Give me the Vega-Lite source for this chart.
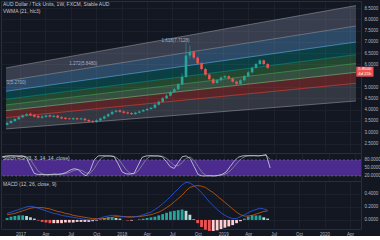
{
  "$schema": "https://vega.github.io/schema/vega-lite/v6.json",
  "background": "#131722",
  "padding": 0,
  "spacing": 0,
  "bounds": "flush",
  "config": {
    "view": {"stroke": "#2a2e39"},
    "font": "Liberation Sans",
    "axis": {"labelFont": "Liberation Sans", "labelFontSize": 4.5, "labelColor": "#b2b5be", "domain": false, "ticks": false, "gridColor": "#232734", "gridWidth": 0.6, "title": null, "labelOverlap": false, "labelSeparation": 0},
    "title": {"font": "Liberation Sans", "subtitleFont": "Liberation Sans", "fontSize": 5, "subtitleFontSize": 5, "fontWeight": "normal", "color": "#c3c6ce", "subtitleColor": "#c3c6ce", "anchor": "start", "frame": "group", "dx": 2, "subtitlePadding": 2}
  },
  "datasets": {
    "bars": [
      {"d":"2016-11-14","o":3.33,"h":3.46,"l":3.29,"c":3.41,"k":92,"dk":90,"m":0.10,"s":0.08,"hs":0.03},
      {"d":"2016-11-28","o":3.41,"h":3.55,"l":3.37,"c":3.50,"k":95,"dk":92,"m":0.12,"s":0.09,"hs":0.05},
      {"d":"2016-12-12","o":3.50,"h":3.63,"l":3.46,"c":3.58,"k":96,"dk":94,"m":0.14,"s":0.10,"hs":0.06},
      {"d":"2016-12-26","o":3.58,"h":3.71,"l":3.54,"c":3.66,"k":95,"dk":95,"m":0.16,"s":0.12,"hs":0.07},
      {"d":"2017-01-09","o":3.66,"h":3.80,"l":3.62,"c":3.74,"k":94,"dk":95,"m":0.18,"s":0.14,"hs":0.07},
      {"d":"2017-01-23","o":3.74,"h":3.86,"l":3.70,"c":3.80,"k":95,"dk":95,"m":0.20,"s":0.16,"hs":0.06},
      {"d":"2017-02-06","o":3.82,"h":3.87,"l":3.71,"c":3.75,"k":90,"dk":93,"m":0.21,"s":0.18,"hs":0.04},
      {"d":"2017-02-20","o":3.77,"h":3.81,"l":3.65,"c":3.69,"k":60,"dk":82,"m":0.20,"s":0.19,"hs":0.02},
      {"d":"2017-03-06","o":3.72,"h":3.76,"l":3.61,"c":3.65,"k":30,"dk":60,"m":0.18,"s":0.19,"hs":-0.01},
      {"d":"2017-03-20","o":3.64,"h":3.74,"l":3.60,"c":3.70,"k":25,"dk":38,"m":0.16,"s":0.19,"hs":-0.03},
      {"d":"2017-04-03","o":3.68,"h":3.78,"l":3.64,"c":3.74,"k":26,"dk":27,"m":0.14,"s":0.18,"hs":-0.04},
      {"d":"2017-04-17","o":3.75,"h":3.79,"l":3.65,"c":3.69,"k":24,"dk":25,"m":0.12,"s":0.17,"hs":-0.05},
      {"d":"2017-05-01","o":3.68,"h":3.77,"l":3.64,"c":3.73,"k":25,"dk":25,"m":0.10,"s":0.15,"hs":-0.05},
      {"d":"2017-05-15","o":3.73,"h":3.77,"l":3.61,"c":3.65,"k":27,"dk":25,"m":0.09,"s":0.13,"hs":-0.05},
      {"d":"2017-05-29","o":3.67,"h":3.71,"l":3.57,"c":3.61,"k":26,"dk":26,"m":0.07,"s":0.12,"hs":-0.05},
      {"d":"2017-06-12","o":3.64,"h":3.68,"l":3.55,"c":3.59,"k":28,"dk":27,"m":0.06,"s":0.10,"hs":-0.04},
      {"d":"2017-06-26","o":3.61,"h":3.65,"l":3.54,"c":3.58,"k":33,"dk":29,"m":0.05,"s":0.09,"hs":-0.04},
      {"d":"2017-07-10","o":3.57,"h":3.66,"l":3.53,"c":3.62,"k":42,"dk":34,"m":0.04,"s":0.07,"hs":-0.04},
      {"d":"2017-07-24","o":3.62,"h":3.66,"l":3.53,"c":3.57,"k":47,"dk":41,"m":0.03,"s":0.06,"hs":-0.03},
      {"d":"2017-08-07","o":3.57,"h":3.65,"l":3.53,"c":3.61,"k":44,"dk":44,"m":0.02,"s":0.05,"hs":-0.03},
      {"d":"2017-08-21","o":3.60,"h":3.64,"l":3.49,"c":3.53,"k":30,"dk":40,"m":0.01,"s":0.04,"hs":-0.03},
      {"d":"2017-09-04","o":3.54,"h":3.58,"l":3.44,"c":3.48,"k":20,"dk":31,"m":0.00,"s":0.03,"hs":-0.03},
      {"d":"2017-09-18","o":3.49,"h":3.53,"l":3.41,"c":3.45,"k":40,"dk":30,"m":0.00,"s":0.02,"hs":-0.02},
      {"d":"2017-10-02","o":3.45,"h":3.57,"l":3.42,"c":3.53,"k":80,"dk":47,"m":0.01,"s":0.02,"hs":-0.01},
      {"d":"2017-10-16","o":3.52,"h":3.65,"l":3.49,"c":3.61,"k":95,"dk":72,"m":0.03,"s":0.02,"hs":0.01},
      {"d":"2017-10-30","o":3.60,"h":3.75,"l":3.57,"c":3.70,"k":96,"dk":90,"m":0.05,"s":0.02,"hs":0.03},
      {"d":"2017-11-13","o":3.70,"h":3.85,"l":3.66,"c":3.80,"k":95,"dk":95,"m":0.06,"s":0.03,"hs":0.04},
      {"d":"2017-11-27","o":3.80,"h":3.96,"l":3.76,"c":3.90,"k":95,"dk":95,"m":0.07,"s":0.04,"hs":0.04},
      {"d":"2017-12-11","o":3.90,"h":4.01,"l":3.86,"c":3.95,"k":92,"dk":94,"m":0.07,"s":0.05,"hs":0.03},
      {"d":"2017-12-25","o":3.97,"h":4.01,"l":3.86,"c":3.90,"k":65,"dk":84,"m":0.06,"s":0.05,"hs":0.02},
      {"d":"2018-01-08","o":3.92,"h":3.96,"l":3.82,"c":3.86,"k":35,"dk":64,"m":0.05,"s":0.05,"hs":0.00},
      {"d":"2018-01-22","o":3.88,"h":3.92,"l":3.79,"c":3.83,"k":28,"dk":43,"m":0.04,"s":0.05,"hs":-0.01},
      {"d":"2018-02-05","o":3.85,"h":3.89,"l":3.76,"c":3.80,"k":27,"dk":30,"m":0.04,"s":0.05,"hs":-0.01},
      {"d":"2018-02-19","o":3.80,"h":3.91,"l":3.77,"c":3.87,"k":30,"dk":28,"m":0.05,"s":0.05,"hs":0.00},
      {"d":"2018-03-05","o":3.86,"h":3.96,"l":3.83,"c":3.92,"k":60,"dk":39,"m":0.06,"s":0.05,"hs":0.01},
      {"d":"2018-03-19","o":3.92,"h":4.03,"l":3.89,"c":3.98,"k":90,"dk":60,"m":0.08,"s":0.06,"hs":0.02},
      {"d":"2018-04-02","o":3.98,"h":4.08,"l":3.94,"c":4.03,"k":95,"dk":82,"m":0.10,"s":0.07,"hs":0.03},
      {"d":"2018-04-16","o":4.03,"h":4.13,"l":3.99,"c":4.08,"k":96,"dk":94,"m":0.12,"s":0.08,"hs":0.04},
      {"d":"2018-04-30","o":4.08,"h":4.28,"l":4.04,"c":4.22,"k":95,"dk":95,"m":0.16,"s":0.10,"hs":0.05},
      {"d":"2018-05-14","o":4.22,"h":4.41,"l":4.18,"c":4.35,"k":95,"dk":95,"m":0.20,"s":0.12,"hs":0.07},
      {"d":"2018-05-28","o":4.35,"h":4.56,"l":4.31,"c":4.50,"k":92,"dk":94,"m":0.25,"s":0.15,"hs":0.09},
      {"d":"2018-06-11","o":4.50,"h":4.68,"l":4.46,"c":4.62,"k":75,"dk":87,"m":0.30,"s":0.19,"hs":0.11},
      {"d":"2018-06-25","o":4.62,"h":4.84,"l":4.58,"c":4.78,"k":55,"dk":74,"m":0.36,"s":0.23,"hs":0.13},
      {"d":"2018-07-09","o":4.78,"h":4.96,"l":4.74,"c":4.90,"k":48,"dk":59,"m":0.42,"s":0.28,"hs":0.14},
      {"d":"2018-07-23","o":4.90,"h":5.18,"l":4.86,"c":5.12,"k":70,"dk":58,"m":0.48,"s":0.33,"hs":0.15},
      {"d":"2018-08-06","o":5.12,"h":5.60,"l":5.08,"c":5.45,"k":92,"dk":70,"m":0.54,"s":0.38,"hs":0.16},
      {"d":"2018-08-20","o":5.45,"h":6.95,"l":5.40,"c":6.40,"k":95,"dk":86,"m":0.58,"s":0.45,"hs":0.14},
      {"d":"2018-09-03","o":6.40,"h":6.85,"l":6.25,"c":6.55,"k":85,"dk":91,"m":0.57,"s":0.50,"hs":0.08},
      {"d":"2018-09-17","o":6.55,"h":6.62,"l":6.22,"c":6.30,"k":55,"dk":78,"m":0.53,"s":0.52,"hs":0.01},
      {"d":"2018-10-01","o":6.30,"h":6.36,"l":5.98,"c":6.05,"k":25,"dk":55,"m":0.48,"s":0.53,"hs":-0.05},
      {"d":"2018-10-15","o":6.05,"h":6.10,"l":5.74,"c":5.80,"k":20,"dk":33,"m":0.42,"s":0.52,"hs":-0.11},
      {"d":"2018-10-29","o":5.80,"h":5.86,"l":5.49,"c":5.55,"k":20,"dk":22,"m":0.35,"s":0.50,"hs":-0.15},
      {"d":"2018-11-12","o":5.55,"h":5.60,"l":5.30,"c":5.35,"k":21,"dk":20,"m":0.28,"s":0.46,"hs":-0.17},
      {"d":"2018-11-26","o":5.35,"h":5.40,"l":5.12,"c":5.18,"k":20,"dk":20,"m":0.22,"s":0.42,"hs":-0.17},
      {"d":"2018-12-10","o":5.18,"h":5.36,"l":5.14,"c":5.30,"k":22,"dk":21,"m":0.16,"s":0.37,"hs":-0.16},
      {"d":"2018-12-24","o":5.30,"h":5.48,"l":5.26,"c":5.42,"k":26,"dk":23,"m":0.11,"s":0.32,"hs":-0.14},
      {"d":"2019-01-07","o":5.42,"h":5.54,"l":5.38,"c":5.48,"k":35,"dk":28,"m":0.07,"s":0.27,"hs":-0.12},
      {"d":"2019-01-21","o":5.48,"h":5.52,"l":5.33,"c":5.38,"k":55,"dk":39,"m":0.04,"s":0.22,"hs":-0.10},
      {"d":"2019-02-04","o":5.38,"h":5.42,"l":5.19,"c":5.24,"k":75,"dk":55,"m":0.02,"s":0.17,"hs":-0.08},
      {"d":"2019-02-18","o":5.24,"h":5.28,"l":5.09,"c":5.14,"k":90,"dk":73,"m":0.02,"s":0.12,"hs":-0.05},
      {"d":"2019-03-04","o":5.14,"h":5.35,"l":5.10,"c":5.30,"k":95,"dk":87,"m":0.05,"s":0.08,"hs":-0.02},
      {"d":"2019-03-18","o":5.30,"h":5.54,"l":5.26,"c":5.48,"k":96,"dk":94,"m":0.08,"s":0.06,"hs":0.02},
      {"d":"2019-04-01","o":5.48,"h":5.71,"l":5.44,"c":5.65,"k":96,"dk":96,"m":0.11,"s":0.06,"hs":0.05},
      {"d":"2019-04-15","o":5.65,"h":5.91,"l":5.61,"c":5.85,"k":96,"dk":96,"m":0.14,"s":0.07,"hs":0.07},
      {"d":"2019-04-29","o":5.85,"h":6.08,"l":5.81,"c":6.02,"k":95,"dk":96,"m":0.16,"s":0.09,"hs":0.07},
      {"d":"2019-05-13","o":6.02,"h":6.24,"l":5.98,"c":6.18,"k":97,"dk":96,"m":0.18,"s":0.11,"hs":0.07},
      {"d":"2019-05-27","o":6.18,"h":6.22,"l":5.96,"c":6.02,"k":100,"dk":97,"m":0.17,"s":0.13,"hs":0.04},
      {"d":"2019-06-10","o":6.02,"h":6.06,"l":5.80,"c":5.85,"k":50,"dk":82,"m":0.15,"s":0.14,"hs":0.02}
    ],
    "bands": [
      {"b":"0","d":"2016-11-10","lo":3.146,"hi":3.647},{"b":"0","d":"2020-04-23","lo":4.385,"hi":5.168},
      {"b":"0.236","d":"2016-11-10","lo":3.647,"hi":3.957},{"b":"0.236","d":"2020-04-23","lo":5.168,"hi":5.653},
      {"b":"0.382","d":"2016-11-10","lo":3.957,"hi":4.208},{"b":"0.382","d":"2020-04-23","lo":5.653,"hi":6.045},
      {"b":"0.5","d":"2016-11-10","lo":4.208,"hi":4.459},{"b":"0.5","d":"2020-04-23","lo":6.045,"hi":6.436},
      {"b":"0.618","d":"2016-11-10","lo":4.459,"hi":4.815},{"b":"0.618","d":"2020-04-23","lo":6.436,"hi":6.994},
      {"b":"0.786","d":"2016-11-10","lo":4.815,"hi":5.270},{"b":"0.786","d":"2020-04-23","lo":6.994,"hi":7.704},
      {"b":"1","d":"2016-11-10","lo":5.270,"hi":5.848},{"b":"1","d":"2020-04-23","lo":7.704,"hi":8.607}
    ],
    "levels": [
      {"lv":"0","d":"2016-11-10","v":3.146},{"lv":"0","d":"2020-04-23","v":4.385},
      {"lv":"0.236","d":"2016-11-10","v":3.647},{"lv":"0.236","d":"2020-04-23","v":5.168},
      {"lv":"0.382","d":"2016-11-10","v":3.957},{"lv":"0.382","d":"2020-04-23","v":5.653},
      {"lv":"0.5","d":"2016-11-10","v":4.208},{"lv":"0.5","d":"2020-04-23","v":6.045},
      {"lv":"0.618","d":"2016-11-10","v":4.459},{"lv":"0.618","d":"2020-04-23","v":6.436},
      {"lv":"0.786","d":"2016-11-10","v":4.815},{"lv":"0.786","d":"2020-04-23","v":6.994},
      {"lv":"1","d":"2016-11-10","v":5.270},{"lv":"1","d":"2020-04-23","v":7.704},
      {"lv":"1.272","d":"2016-11-10","v":5.848},{"lv":"1.272","d":"2020-04-23","v":8.607}
    ],
    "fiblabels": [
      {"d":"2016-11-13","v":5.18,"t":"1(5.2700)"},
      {"d":"2017-06-26","v":6.02,"t":"1.272(5.8480)"},
      {"d":"2018-05-24","v":7.04,"t":"1.618(7.7128)"}
    ],
    "cur": [{"d1":"2020-04-24","d2":"2020-06-25","lo":5.46,"hi":5.90}],
    "curtext": [
      {"d":"2020-05-25","v":5.79,"t":"5.8500"},
      {"d":"2020-05-25","v":5.58,"t":"4d 21h"}
    ],
    "stband": [{"d1":"2016-11-10","d2":"2020-04-23","lo":20,"hi":80}],
    "stlevels": [{"v":80},{"v":20}]
  },
  "vconcat": [
    {
      "width": 360,
      "height": 152,
      "title": {"text": "AUD Dollar / Tick Units, 1W, FXCM, Stable AUD", "subtitle": "VWMA (21, hlc3)", "offset": -13},
      "resolve": {"scale": {"fill": "independent", "stroke": "independent"}},
      "layer": [
        {
          "data": {"name": "bands"},
          "mark": {"type": "area", "clip": true, "opacity": 0.32},
          "encoding": {
            "x": {"field": "d", "type": "temporal", "scale": {"type": "utc", "domain": [{"year": 2016, "month": 11, "date": 10, "utc": true}, {"year": 2020, "month": 4, "date": 23, "utc": true}]}, "axis": {"labels": false, "grid": true, "minExtent": 0, "maxExtent": 0, "tickCount": {"interval": "month", "step": 3}}},
            "y": {"field": "lo", "type": "quantitative", "stack": null, "scale": {"domain": [2.08, 8.81], "nice": false, "zero": false}, "axis": {"orient": "right", "values": [2.5, 3, 3.5, 4, 4.5, 5, 6, 6.5, 7, 7.5, 8, 8.5], "tickCount": 30, "format": ".4f", "labelPadding": 3, "labelOverlap": false, "labelBound": false, "grid": true}},
            "y2": {"field": "hi"},
            "fill": {"field": "b", "type": "nominal", "legend": null, "scale": {"domain": ["0", "0.236", "0.382", "0.5", "0.618", "0.786", "1"], "range": ["#787b86", "#f44336", "#81c784", "#4caf50", "#009688", "#64b5f6", "#8a93a8"]}}
          }
        },
        {
          "data": {"name": "levels"},
          "mark": {"type": "line", "clip": true, "strokeWidth": 0.7, "opacity": 0.8},
          "encoding": {
            "x": {"field": "d", "type": "temporal"},
            "y": {"field": "v", "type": "quantitative"},
            "stroke": {"field": "lv", "type": "nominal", "legend": null, "scale": {"domain": ["0", "0.236", "0.382", "0.5", "0.618", "0.786", "1", "1.272"], "range": ["#9598a1", "#f44336", "#81c784", "#4caf50", "#009688", "#64b5f6", "#9598a1", "#9598a1"]}}
          }
        },
        {
          "data": {"name": "bars"},
          "mark": {"type": "rule", "strokeWidth": 0.6},
          "encoding": {
            "x": {"field": "d", "type": "temporal"},
            "y": {"field": "l", "type": "quantitative"},
            "y2": {"field": "h"},
            "color": {"condition": {"test": "datum.c >= datum.o", "value": "#26a69a"}, "value": "#ef5350"}
          }
        },
        {
          "data": {"name": "bars"},
          "mark": {"type": "bar", "size": 2.6},
          "encoding": {
            "x": {"field": "d", "type": "temporal"},
            "y": {"field": "o", "type": "quantitative"},
            "y2": {"field": "c"},
            "color": {"condition": {"test": "datum.c >= datum.o", "value": "#26a69a"}, "value": "#ef5350"}
          }
        },
        {
          "data": {"name": "fiblabels"},
          "mark": {"type": "text", "align": "left", "baseline": "middle", "fontSize": 4.5, "color": "#9fb3cc"},
          "encoding": {
            "x": {"field": "d", "type": "temporal"},
            "y": {"field": "v", "type": "quantitative"},
            "text": {"field": "t"}
          }
        },
        {
          "data": {"name": "cur"},
          "mark": {"type": "rect", "clip": false, "color": "#ef5350"},
          "encoding": {
            "x": {"field": "d1", "type": "temporal"},
            "x2": {"field": "d2"},
            "y": {"field": "lo", "type": "quantitative"},
            "y2": {"field": "hi"}
          }
        },
        {
          "data": {"name": "curtext"},
          "mark": {"type": "text", "clip": false, "align": "center", "baseline": "middle", "fontSize": 4.3, "color": "#ffffff"},
          "encoding": {
            "x": {"field": "d", "type": "temporal"},
            "y": {"field": "v", "type": "quantitative"},
            "text": {"field": "t"}
          }
        }
      ]
    },
    {
      "width": 360,
      "height": 28,
      "title": {"text": "Stoch RSI (3, 3, 14, 14, close)", "offset": -8},
      "layer": [
        {
          "data": {"name": "stband"},
          "mark": {"type": "rect", "color": "#4b2c8e"},
          "encoding": {
            "x": {"field": "d1", "type": "temporal", "scale": {"type": "utc", "domain": [{"year": 2016, "month": 11, "date": 10, "utc": true}, {"year": 2020, "month": 4, "date": 23, "utc": true}]}, "axis": {"labels": false, "grid": true, "minExtent": 0, "maxExtent": 0, "tickCount": {"interval": "month", "step": 3}}},
            "x2": {"field": "d2"},
            "y": {"field": "lo", "type": "quantitative", "scale": {"domain": [1, 106], "nice": false}, "axis": {"orient": "right", "values": [20, 50, 80], "tickCount": 30, "format": ".4f", "labelPadding": 3, "labelOverlap": false, "labelBound": false, "grid": false}},
            "y2": {"field": "hi"}
          }
        },
        {
          "data": {"name": "stlevels"},
          "mark": {"type": "rule", "color": "#787b86", "strokeWidth": 0.6, "strokeDash": [2, 2]},
          "encoding": {"y": {"field": "v", "type": "quantitative"}}
        },
        {
          "data": {"name": "bars"},
          "mark": {"type": "line", "color": "#8a8e9c", "strokeWidth": 0.8},
          "encoding": {
            "x": {"field": "d", "type": "temporal"},
            "y": {"field": "dk", "type": "quantitative"}
          }
        },
        {
          "data": {"name": "bars"},
          "mark": {"type": "line", "color": "#d1d4dc", "strokeWidth": 0.8},
          "encoding": {
            "x": {"field": "d", "type": "temporal"},
            "y": {"field": "k", "type": "quantitative"}
          }
        }
      ]
    },
    {
      "width": 360,
      "height": 48,
      "title": {"text": "MACD (12, 26, close, 9)", "offset": -6},
      "layer": [
        {
          "data": {"name": "bars"},
          "transform": [{"window": [{"op": "lag", "field": "hs", "as": "ph"}], "sort": [{"field": "d"}]}],
          "mark": {"type": "bar", "size": 2.8},
          "encoding": {
            "x": {"field": "d", "type": "temporal", "scale": {"type": "utc", "domain": [{"year": 2016, "month": 11, "date": 10, "utc": true}, {"year": 2020, "month": 4, "date": 23, "utc": true}]}, "axis": {"labels": true, "grid": true, "tickCount": {"interval": "month", "step": 3}, "labelPadding": 2, "labelFlush": false, "labelExpr": "utcmonth(datum.value) == 0 ? utcFormat(datum.value, '%Y') : utcFormat(datum.value, '%b')"}},
            "y": {"field": "hs", "type": "quantitative", "scale": {"domain": [-0.14, 0.6], "nice": false}, "axis": {"orient": "right", "values": [0, 0.2, 0.4], "tickCount": 30, "format": ".4f", "labelPadding": 3, "labelOverlap": false, "labelBound": false, "grid": true}},
            "y2": {"datum": 0},
            "color": {"condition": [
              {"test": "datum.hs >= 0 && datum.hs >= datum.ph", "value": "#26a69a"},
              {"test": "datum.hs >= 0", "value": "#b2dfdb"},
              {"test": "datum.hs < datum.ph", "value": "#ef5350"}
            ], "value": "#ffcdd2"}
          }
        },
        {
          "data": {"name": "bars"},
          "mark": {"type": "line", "color": "#ff6d00", "strokeWidth": 0.8, "opacity": 0.8},
          "encoding": {
            "x": {"field": "d", "type": "temporal"},
            "y": {"field": "s", "type": "quantitative"}
          }
        },
        {
          "data": {"name": "bars"},
          "mark": {"type": "line", "color": "#2962ff", "strokeWidth": 0.8, "opacity": 0.9},
          "encoding": {
            "x": {"field": "d", "type": "temporal"},
            "y": {"field": "m", "type": "quantitative"}
          }
        }
      ]
    }
  ]
}
